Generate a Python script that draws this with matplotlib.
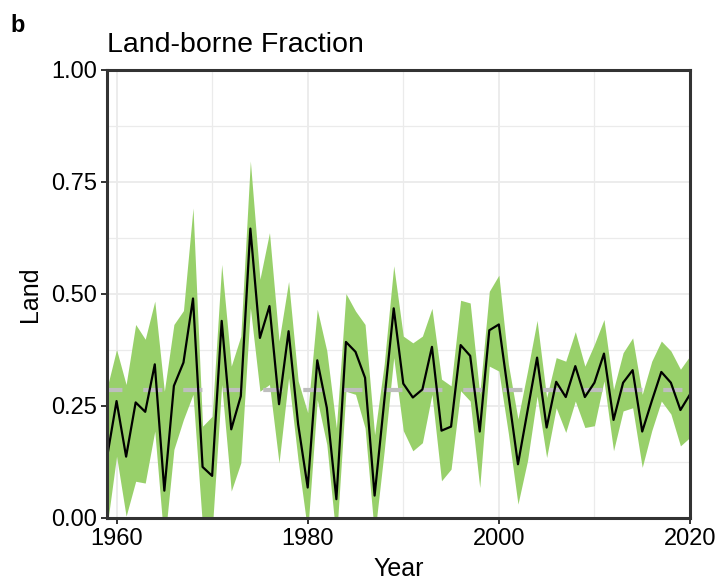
import numpy as np
import matplotlib
matplotlib.use("Agg")
import matplotlib.pyplot as plt
from matplotlib.ticker import MultipleLocator

plt.rcParams['font.family'] = ['Liberation Sans', 'DejaVu Sans']

years = list(range(1959, 2021))

# central estimate of the land-borne fraction
land_mid = [0.135, 0.261, 0.137, 0.258, 0.237, 0.343, 0.061, 0.295, 0.347, 0.490,
            0.114, 0.094, 0.440, 0.198, 0.272, 0.646, 0.402, 0.473, 0.254, 0.417,
            0.209, 0.068, 0.352, 0.246, 0.042, 0.393, 0.371, 0.313, 0.050, 0.259,
            0.468, 0.300, 0.269, 0.287, 0.382, 0.195, 0.204, 0.386, 0.362, 0.193,
            0.419, 0.432, 0.276, 0.120, 0.239, 0.358, 0.202, 0.304, 0.270, 0.339,
            0.270, 0.302, 0.367, 0.219, 0.302, 0.330, 0.193, 0.261, 0.326, 0.302,
            0.241, 0.276]

land_hi = [0.290, 0.376, 0.298, 0.432, 0.399, 0.484, 0.283, 0.432, 0.463, 0.692,
           0.205, 0.227, 0.566, 0.339, 0.406, 0.797, 0.533, 0.637, 0.395, 0.528,
           0.306, 0.235, 0.466, 0.373, 0.201, 0.501, 0.462, 0.432, 0.186, 0.343,
           0.563, 0.406, 0.391, 0.406, 0.468, 0.310, 0.295, 0.486, 0.480, 0.276,
           0.506, 0.542, 0.343, 0.221, 0.328, 0.441, 0.269, 0.358, 0.350, 0.416,
           0.339, 0.388, 0.443, 0.287, 0.369, 0.402, 0.276, 0.350, 0.395, 0.373,
           0.332, 0.362]

land_lo = [-0.020, 0.138, 0.004, 0.082, 0.078, 0.194, -0.060, 0.153, 0.220, 0.276,
           -0.020, -0.030, 0.298, 0.060, 0.123, 0.469, 0.283, 0.298, 0.123, 0.313,
           0.128, -0.030, 0.264, 0.164, -0.050, 0.283, 0.276, 0.201, -0.040, 0.149,
           0.358, 0.195, 0.150, 0.168, 0.276, 0.083, 0.109, 0.284, 0.261, 0.068,
           0.339, 0.328, 0.188, 0.031, 0.128, 0.272, 0.135, 0.246, 0.191, 0.261,
           0.202, 0.206, 0.306, 0.150, 0.239, 0.246, 0.113, 0.195, 0.261, 0.232,
           0.161, 0.180]

land_mean = 0.285

fig = plt.figure(figsize=(7.23, 5.87), dpi=100)
ax = fig.add_axes([107 / 723, 1 - 518 / 587, 583 / 723, 448 / 587])

ax.fill_between(years, land_lo, land_hi, color="#98d06a", linewidth=0, zorder=2)
ax.axhline(land_mean, color="#bebebe", lw=3.0, linestyle=(0.9, (4.6, 5.0)),
           dash_capstyle="butt", zorder=3)
ax.plot(years, land_mid, color="black", lw=1.6, zorder=4)

ax.set_xlim(1959, 2020)
ax.set_ylim(0, 1)
ax.xaxis.set_major_locator(MultipleLocator(20))
ax.xaxis.set_minor_locator(MultipleLocator(10))
ax.yaxis.set_major_locator(MultipleLocator(0.25))
ax.yaxis.set_minor_locator(MultipleLocator(0.125))
ax.set_yticklabels([f"{v:.2f}" for v in ax.get_yticks()])

ax.grid(which="major", color="#ebebeb", lw=1.3, zorder=0)
ax.grid(which="minor", color="#ebebeb", lw=0.9, zorder=0)
ax.set_axisbelow(True)
for s in ax.spines.values():
    s.set_color("#333333")
    s.set_linewidth(2.2)
    s.set_zorder(5)

ax.tick_params(which="major", length=4, width=1.4, color="#333333",
               labelsize=17, labelcolor="black", pad=3)
ax.tick_params(which="minor", length=0)

ax.set_xlabel("Year", fontsize=18, labelpad=5)
ax.set_ylabel("Land", fontsize=18, labelpad=7)

fig.text(107 / 723, 1 - 52 / 587, "Land-borne Fraction", fontsize=20.5,
         ha="left", va="baseline")
fig.text(10 / 723, 1 - 32 / 587, "b", fontsize=17, fontweight="bold",
         ha="left", va="baseline")

fig.savefig("out.png", dpi=100)
